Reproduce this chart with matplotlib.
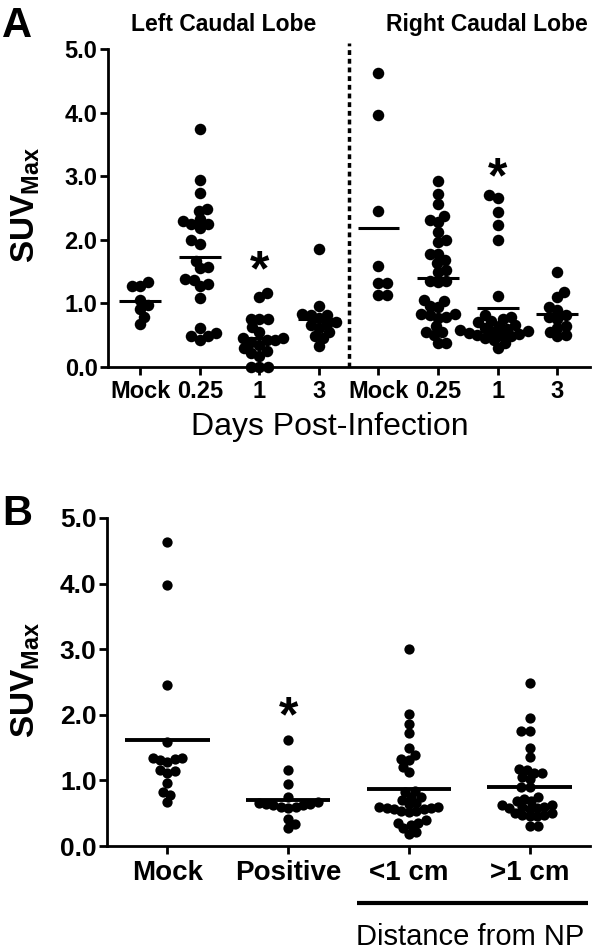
import numpy as np
import matplotlib
matplotlib.use("Agg")
import matplotlib.pyplot as plt
from matplotlib.transforms import offset_copy

plt.rcParams['font.family'] = ['Liberation Sans', 'DejaVu Sans']
plt.rcParams['mathtext.fontset'] = 'custom'
plt.rcParams['mathtext.rm'] = 'Liberation Sans'
plt.rcParams['mathtext.bf'] = 'Liberation Sans:bold'

# ---- panel A: SUVmax per lobe and day ----
days_labels = ["Mock", "0.25", "1", "3"]
left_mock = [1.34, 1.28, 1.28, 0.91, 1.06, 0.97, 0.79, 0.675]
left_025 = [3.74, 2.94, 2.74, 2.46, 2.48, 2.30, 2.245, 2.19, 2.245, 2.33, 1.94, 2.00,
            1.67, 1.565, 1.55, 1.38, 1.37, 1.27, 1.31, 1.09, 0.62, 0.48, 0.42, 0.48, 0.54]
left_1 = [1.17, 1.10, 0.76, 0.75, 0.75, 0.63, 0.55, 0.46, 0.42, 0.40, 0.42, 0.46,
          0.35, 0.30, 0.25, 0.22, 0.18, 0.0, 0.0, 0.0]
left_3 = [1.85, 0.96, 0.83, 0.82, 0.82, 0.77, 0.70, 0.68, 0.66, 0.62, 0.55, 0.48, 0.45, 0.33]
right_mock = [4.62, 3.97, 2.45, 1.59, 1.32, 1.32, 1.13, 1.13]
right_025 = [2.92, 2.72, 2.56, 2.375, 2.28, 2.31, 2.12, 2.00, 1.97, 1.77, 1.77, 1.63, 1.69,
             1.50, 1.52, 1.36, 1.33, 1.36, 1.04, 1.05, 0.96, 0.95, 0.83, 0.81, 0.83, 0.77,
             0.78, 0.64, 0.55, 0.55, 0.50, 0.38, 0.38]
right_1 = [2.70, 2.65, 2.44, 2.23, 2.00, 1.11, 0.82, 0.78, 0.76, 0.72, 0.70, 0.66, 0.64,
           0.62, 0.60, 0.58, 0.56, 0.55, 0.54, 0.52, 0.50, 0.50, 0.48, 0.46, 0.42, 0.38, 0.30]
right_3 = [1.50, 1.18, 1.10, 0.95, 0.895, 0.82, 0.78, 0.76, 0.64, 0.62, 0.55, 0.50, 0.48]
groups_A = [left_mock, left_025, left_1, left_3, right_mock, right_025, right_1, right_3]
stars_A = [(2, 1.73), (6, 3.2)]

# ---- panel B: SUVmax by location ----
loc_labels = ["Mock", "Positive", "<1 cm", ">1 cm"]
b_mock = [4.63, 3.98, 2.45, 1.59, 1.34, 1.32, 1.28, 1.31, 1.34, 1.16, 1.11, 1.15,
          0.955, 0.83, 0.78, 0.675]
b_pos = [1.62, 1.16, 0.94, 0.75, 0.67, 0.64, 0.62, 0.60, 0.58, 0.60, 0.62, 0.64, 0.66,
         0.41, 0.27, 0.335]
b_lt1 = [3.00, 2.01, 1.86, 1.72, 1.50, 1.33, 1.38, 1.31, 1.21, 1.13, 0.84, 0.83, 0.75,
         0.75, 0.66, 0.70, 0.64, 0.60, 0.58, 0.56, 0.54, 0.52, 0.54, 0.56, 0.58, 0.60,
         0.39, 0.35, 0.27, 0.19, 0.22, 0.32, 0.355]
b_gt1 = [2.48, 1.95, 1.76, 1.76, 1.50, 1.35, 1.18, 1.16, 1.12, 1.11, 1.05, 1.02, 0.90,
         0.90, 0.74, 0.72, 0.68, 0.68, 0.62, 0.60, 0.58, 0.57, 0.58, 0.60, 0.62, 0.50,
         0.48, 0.46, 0.48, 0.50, 0.31, 0.31, 0.45]
groups_B = [b_mock, b_pos, b_lt1, b_gt1]
stars_B = [(1, 2.18)]


def swarm(ax, x0, vals, diam):
    # simple beeswarm in pixel space
    tr = ax.transData
    vals = np.asarray(vals, float)
    px0 = tr.transform((x0, 0))[0]
    pys = tr.transform(np.column_stack([np.full(len(vals), x0), vals]))[:, 1]
    placed = []
    xs = np.zeros(len(vals))
    step = diam / 8
    for n, i in enumerate(np.argsort(vals)):
        cx = px0
        for k in range(400):
            ok = False
            for sg in ((1, -1) if n % 2 else (-1, 1)):
                cx = px0 + sg * k * step
                if all((cx - qx) ** 2 + (pys[i] - qy) ** 2 >= diam ** 2 for qx, qy in placed):
                    ok = True
                    break
            if ok:
                break
        placed.append((cx, pys[i]))
        xs[i] = cx
    return tr.inverted().transform(np.column_stack([xs, pys]))[:, 0]


def style(ax, fs):
    for s in ['top', 'right']:
        ax.spines[s].set_visible(False)
    for s in ['left', 'bottom']:
        ax.spines[s].set_linewidth(2)
    ax.set_ylim(0, 5)
    ax.set_yticks(range(6))
    ax.set_yticklabels([f"{v:.1f}" for v in range(6)], fontsize=fs, fontweight='bold')
    ax.tick_params(axis='y', width=2, length=6, pad=1.5)
    ax.tick_params(axis='x', width=2, length=6, pad=3)


def draw(ax, groups, msize, mean_lw):
    diam = msize * 100 / 72
    for i, g in enumerate(groups):
        xo = swarm(ax, i, g, diam * 0.72)
        ax.scatter(xo, g, s=msize ** 2, color='black', linewidths=0, zorder=3, clip_on=False)
        ax.hlines(np.mean(g), i - 0.35, i + 0.35, color='black', lw=mean_lw, zorder=4)


def star(ax, x, y, fs):
    t = offset_copy(ax.transData, fig=ax.figure, y=-0.57 * fs, units='points')
    ax.text(x, y, '*', transform=t, ha='center', va='baseline', fontsize=fs, fontweight='bold')


fig = plt.figure(figsize=(6, 9.52), dpi=100)
axA = fig.add_axes([108 / 600, 1 - 367 / 952, 482 / 600, 318 / 952])
axB = fig.add_axes([107 / 600, 1 - 846 / 952, 483 / 600, 328 / 952])

# panel A
axA.set_xlim(-0.54, 7.55)
style(axA, 17)
axA.set_xticks(range(8))
axA.set_xticklabels(days_labels * 2, fontsize=17, fontweight='bold')
draw(axA, groups_A, 8.3, 2.2)
axA.plot([3.5, 3.5], [0, 5.1], color='black', lw=2.5, ls=(0, (1.4, 1.1)), clip_on=False)
for x, y in stars_A:
    star(axA, x, y, 36)

# panel B
axB.set_xlim(-0.5, 3.5)
style(axB, 19)
axB.set_xticks(range(4))
axB.set_xticklabels(loc_labels, fontsize=20, fontweight='bold')
axB.tick_params(axis='x', pad=4)
draw(axB, groups_B, 7.4, 2.8)
for x, y in stars_B:
    star(axB, x, y, 36)
axB.plot([1.57, 3.48], [-0.87, -0.87], color='black', lw=3, solid_capstyle='butt', clip_on=False)

# labels
fig.text(0.003, 1 - 37 / 952, "A", fontsize=30, fontweight='bold', va='baseline')
fig.text(0.003, 1 - 525 / 952, "B", fontsize=30, fontweight='bold', va='baseline')
fig.text(224 / 600, 1 - 31 / 952, "Left Caudal Lobe", fontsize=16.5, fontweight='bold',
         ha='center', va='baseline')
fig.text(487 / 600, 1 - 31 / 952, "Right Caudal Lobe", fontsize=16.5, fontweight='bold',
         ha='center', va='baseline')
fig.text(330 / 600, 1 - 435 / 952, "Days Post-Infection", fontsize=23, ha='center', va='baseline')
fig.text(470 / 600, 1 - 945 / 952, "Distance from NP", fontsize=21, ha='center', va='baseline')
fig.text(26 / 600, 1 - 205 / 952, r"$\mathbf{SUV}_{\mathbf{Max}}$", fontsize=24, rotation=90,
         ha='center', va='center')
fig.text(26 / 600, 1 - 680 / 952, r"$\mathbf{SUV}_{\mathbf{Max}}$", fontsize=24, rotation=90,
         ha='center', va='center')

fig.savefig("out.png", dpi=100)
